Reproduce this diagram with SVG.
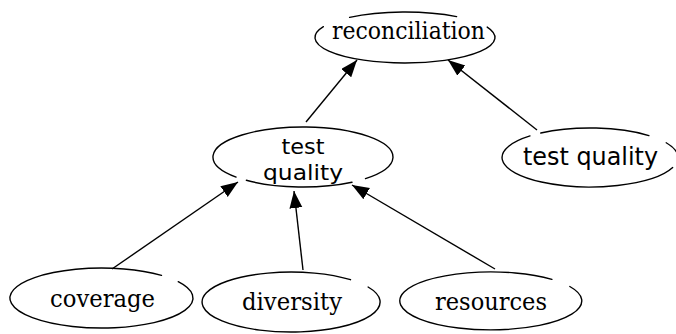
<svg xmlns="http://www.w3.org/2000/svg" width="676" height="334" viewBox="0 0 676 334">
  <style>
    .shape { fill: none; stroke: #000; stroke-width: 1.4; stroke-linecap: round; }
    .edge { fill: none; stroke: #000; stroke-width: 1.4; marker-end: url(#head); }
    .serif { font-family: "DejaVu Serif", "Liberation Serif", serif; font-size: 24px; fill: #000; text-anchor: middle; }
    .sans { font-family: "DejaVu Sans", "Liberation Sans", sans-serif; font-size: 24px; fill: #000; text-anchor: middle; }
    .tight { font-size: 21px; }
  </style>
  <defs>
    <marker id="head" markerUnits="userSpaceOnUse" markerWidth="18" markerHeight="14" refX="17" refY="6.5" orient="auto">
      <path d="M0,0 L17,6.5 L0,13 Z" fill="#000"/>
    </marker>
  </defs>

  <rect width="676" height="334" fill="#fff"/>

  <g id="connectors">
    <line class="edge" x1="306" y1="122" x2="357" y2="60"/>
    <line class="edge" x1="537" y1="130" x2="448" y2="60"/>
    <line class="edge" x1="112" y1="269" x2="238" y2="182"/>
    <line class="edge" x1="303" y1="270" x2="294" y2="191"/>
    <line class="edge" x1="495" y1="269" x2="352" y2="185"/>
  </g>

  <g id="reconciliation">
    <path class="shape" d="M349.6,17.4 A90,25.5 0 0 1 456.6,16.6 M487.2,27.1 A90,25.5 0 1 1 323.4,26.7"/>
    <text class="serif" x="408.5" y="39" textLength="153" lengthAdjust="spacingAndGlyphs">reconciliation</text>
  </g>

  <g id="test-quality-mid">
    <path class="shape" d="M352,182.2 A90,30 0 0 1 246.4,180.3 M236.1,177.1 A90,30 0 1 1 365.5,178.6"/>
    <text class="sans tight" x="303" y="154" textLength="43" lengthAdjust="spacingAndGlyphs">test</text>
    <text class="sans tight" x="303" y="180" textLength="80" lengthAdjust="spacingAndGlyphs">quality</text>
  </g>

  <g id="test-quality-right">
    <path class="shape" d="M540.8,133 A88,29.5 0 0 1 648.9,135.6 M666.2,142.75 A88,29.5 0 0 1 677.7,154.9 M672.7,167.6 A88,29.5 0 1 1 530,135.9"/>
    <text class="sans" x="590.5" y="165" textLength="135" lengthAdjust="spacingAndGlyphs">test quality</text>
  </g>

  <g id="coverage">
    <path class="shape" d="M178.2,281.7 A91.5,30 0 1 1 161.5,275.4"/>
    <text class="serif" x="102.5" y="307" textLength="105" lengthAdjust="spacingAndGlyphs">coverage</text>
  </g>

  <g id="diversity">
    <path class="shape" d="M368.1,287 A89,30 0 1 1 350.5,279.7"/>
    <text class="serif" x="292" y="310" textLength="100" lengthAdjust="spacingAndGlyphs">diversity</text>
  </g>

  <g id="resources">
    <path class="shape" d="M569.8,286.5 A91,29 0 1 1 551.9,279.4"/>
    <text class="serif" x="491" y="310" textLength="112" lengthAdjust="spacingAndGlyphs">resources</text>
  </g>
</svg>
